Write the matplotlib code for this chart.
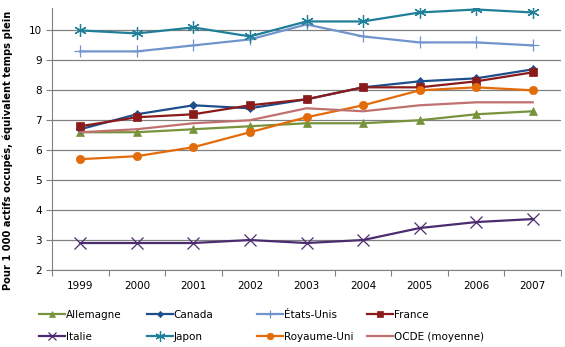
import matplotlib
matplotlib.use("Agg")
import matplotlib.pyplot as plt
import numpy as np

# --- Données ---
annees = ["1999", "2000", "2001", "2002", "2003", "2004", "2005", "2006", "2007"]
allemagne = [6.6, 6.6, 6.7, 6.8, 6.9, 6.9, 7.0, 7.2, 7.3]
canada = [6.7, 7.2, 7.5, 7.4, 7.7, 8.1, 8.3, 8.4, 8.7]
etats_unis = [9.3, 9.3, 9.5, 9.7, 10.2, 9.8, 9.6, 9.6, 9.5]
france = [6.8, 7.1, 7.2, 7.5, 7.7, 8.1, 8.1, 8.3, 8.6]
italie = [2.9, 2.9, 2.9, 3.0, 2.9, 3.0, 3.4, 3.6, 3.7]
japon = [10.0, 9.9, 10.1, 9.8, 10.3, 10.3, 10.6, 10.7, 10.6]
royaume_uni = [5.7, 5.8, 6.1, 6.6, 7.1, 7.5, 8.0, 8.1, 8.0]
ocde = [6.6, 6.7, 6.9, 7.0, 7.4, 7.3, 7.5, 7.6, 7.6]

plt.rcParams['font.family'] = ['DejaVu Sans']

fig = plt.figure(figsize=(5.65, 3.47), dpi=100)
ax = fig.add_axes([0.092, 0.222, 0.901, 0.755])

x = np.arange(len(annees))

# --- Séries ---
series = [
    ("Allemagne", allemagne, "#77933C", "^", 6),
    ("Canada", canada, "#1F4E8C", "D", 4),
    ("États-Unis", etats_unis, "#7094CC", "+", 8),
    ("France", france, "#8B1A1A", "s", 6),
    ("Italie", italie, "#4B2C6F", "x", 8),
    ("Japon", japon, "#1F7F99", (6, 2, 0), 9),
    ("Royaume-Uni", royaume_uni, "#E36C0A", "o", 6),
    ("OCDE (moyenne)", ocde, "#C0706E", None, 0),
]

lignes = []
for nom, vals, couleur, marqueur, taille in series:
    fin = marqueur in ("+", "x") or isinstance(marqueur, tuple)
    l, = ax.plot(x, vals, color=couleur, lw=1.6, label=nom,
                 marker=marqueur, markersize=taille,
                 markeredgewidth=0.9 if fin else 0.5)
    lignes.append(l)

# --- Axes ---
ax.set_xlim(-0.5, len(annees) - 0.5)
ax.set_ylim(2, 10.75)
ax.set_yticks(range(2, 11))
ax.yaxis.grid(True, color="#808080", lw=0.9)
ax.set_axisbelow(True)

ax.set_xticks(np.arange(-0.5, len(annees), 1.0))
ax.set_xticklabels([])
ax.set_xticks(x, minor=True)
ax.set_xticklabels(annees, minor=True)
ax.tick_params(axis="x", which="major", length=4, color="#808080")
ax.tick_params(axis="x", which="minor", length=0, labelsize=7.5, pad=8)
ax.tick_params(axis="y", length=4, color="#808080", labelsize=7.5)

for s in ["top", "right"]:
    ax.spines[s].set_visible(False)
for s in ["left", "bottom"]:
    ax.spines[s].set_color("#808080")

fig.text(0.013, 0.568, "Pour 1 000 actifs occupés, équivalent temps plein",
         rotation=90, fontsize=7.1, fontweight="bold", ha="center", va="center")

# --- Légende : 4 colonnes régulières, 2 lignes ---
x_cols = [42, 150, 260, 370]
for i, xc in enumerate(x_cols):
    h = [lignes[i], lignes[i + 4]]
    leg = fig.legend(handles=h, loc="upper left",
                     bbox_to_anchor=(xc / 565 - 0.006, 1 - 310 / 347),
                     frameon=False, fontsize=7.5, handlelength=2.5,
                     handletextpad=0.1, labelspacing=1.15, markerscale=0.8,
                     borderpad=0, borderaxespad=0)

fig.savefig("out.png", dpi=100)
